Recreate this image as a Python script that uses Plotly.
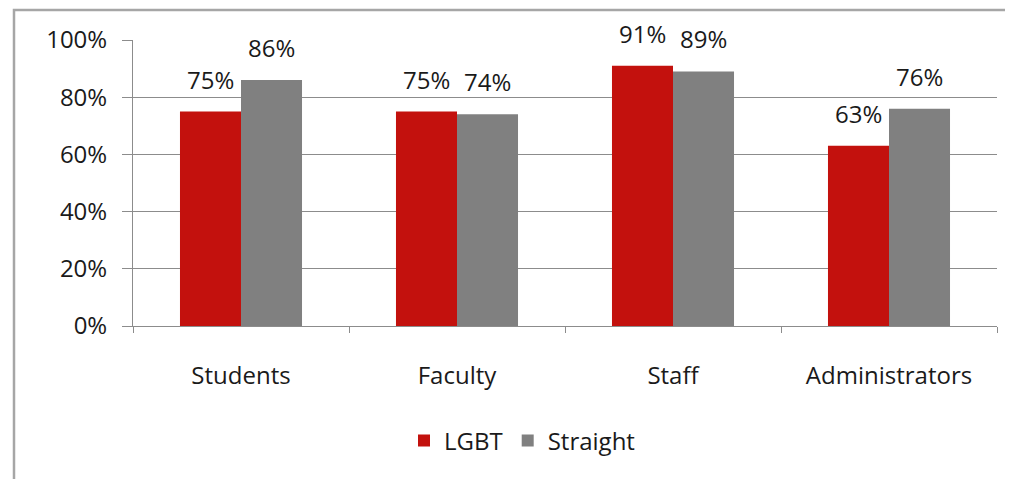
import plotly.graph_objects as go

categories = ["Students", "Faculty", "Staff", "Administrators"]
lgbt = [75, 75, 91, 63]
straight = [86, 74, 89, 76]
tick_vals = [0, 20, 40, 60, 80, 100]
tick_text = ["0%", "20%", "40%", "60%", "80%", "100%"]

# page body has an 8px margin; figure is sized to fit the 1013x479 window
OFF = 8
W, H = 1013 - OFF, 479 - OFF
ml, mr, mt, mb = 133 - OFF, 16, 40 - OFF, 479 - 326
pw, ph = W - ml - mr, H - mt - mb

FAM = "Open Sans, Lato, sans-serif"
font = dict(family=FAM, size=24, color="#1a1a1a")

RED, GREY = "#C3110D", "#808080"
bargap = 0.435

fig = go.Figure()
fig.add_trace(go.Bar(x=categories, y=lgbt, name="LGBT", marker=dict(color=RED, line=dict(width=0))))
fig.add_trace(go.Bar(x=categories, y=straight, name="Straight", marker=dict(color=GREY, line=dict(width=0))))

# data labels above each bar
bar_px = pw / len(categories) * (1 - bargap) / 2
for series, sign in ((lgbt, -1), (straight, 1)):
    for c, v in zip(categories, series):
        fig.add_annotation(x=c, y=v, xref="x", yref="y", text=f"{v}%", showarrow=False,
                           xshift=sign * bar_px / 2, yshift=14, yanchor="bottom",
                           font=font)

fig.update_layout(
    width=W, height=H,
    margin=dict(l=ml, r=mr, t=mt, b=mb, autoexpand=False),
    paper_bgcolor="white", plot_bgcolor="white",
    barmode="group", bargap=bargap, bargroupgap=0,
    font=font,
    showlegend=True,
    legend=dict(orientation="h", xref="container", yref="container",
                x=514 / W, xanchor="center", y=1 - 433 / H, yanchor="middle",
                font=font, itemwidth=30, traceorder="normal", bgcolor="rgba(0,0,0,0)"),
)
fig.update_yaxes(range=[0, 100], tickvals=tick_vals, ticktext=tick_text,
                 showgrid=True, gridcolor="#8c8c8c", gridwidth=1,
                 showline=True, linecolor="#8c8c8c", linewidth=1,
                 ticks="outside", ticklen=10, tickcolor="#8c8c8c", zeroline=False,
                 tickfont=font, automargin=False, ticklabelstandoff=10)
fig.update_xaxes(showline=True, linecolor="#8c8c8c", linewidth=1,
                 ticks="outside", tickson="boundaries", ticklen=6, tickcolor="#8c8c8c",
                 tickfont=font, ticklabelstandoff=28, automargin=False)

# outer chart border (extends past the right and bottom edges)
x0 = (14 - OFF - ml) / pw
y1 = (H - (10 - OFF) - mb) / ph
x1 = (1040 - ml) / pw
y0 = (-40 - mb) / ph
fig.add_shape(type="rect", xref="paper", yref="paper", x0=x0, x1=x1, y0=y0, y1=y1,
              line=dict(color="#a6a6a6", width=2.5), layer="below")

fig.write_html("out.html")
